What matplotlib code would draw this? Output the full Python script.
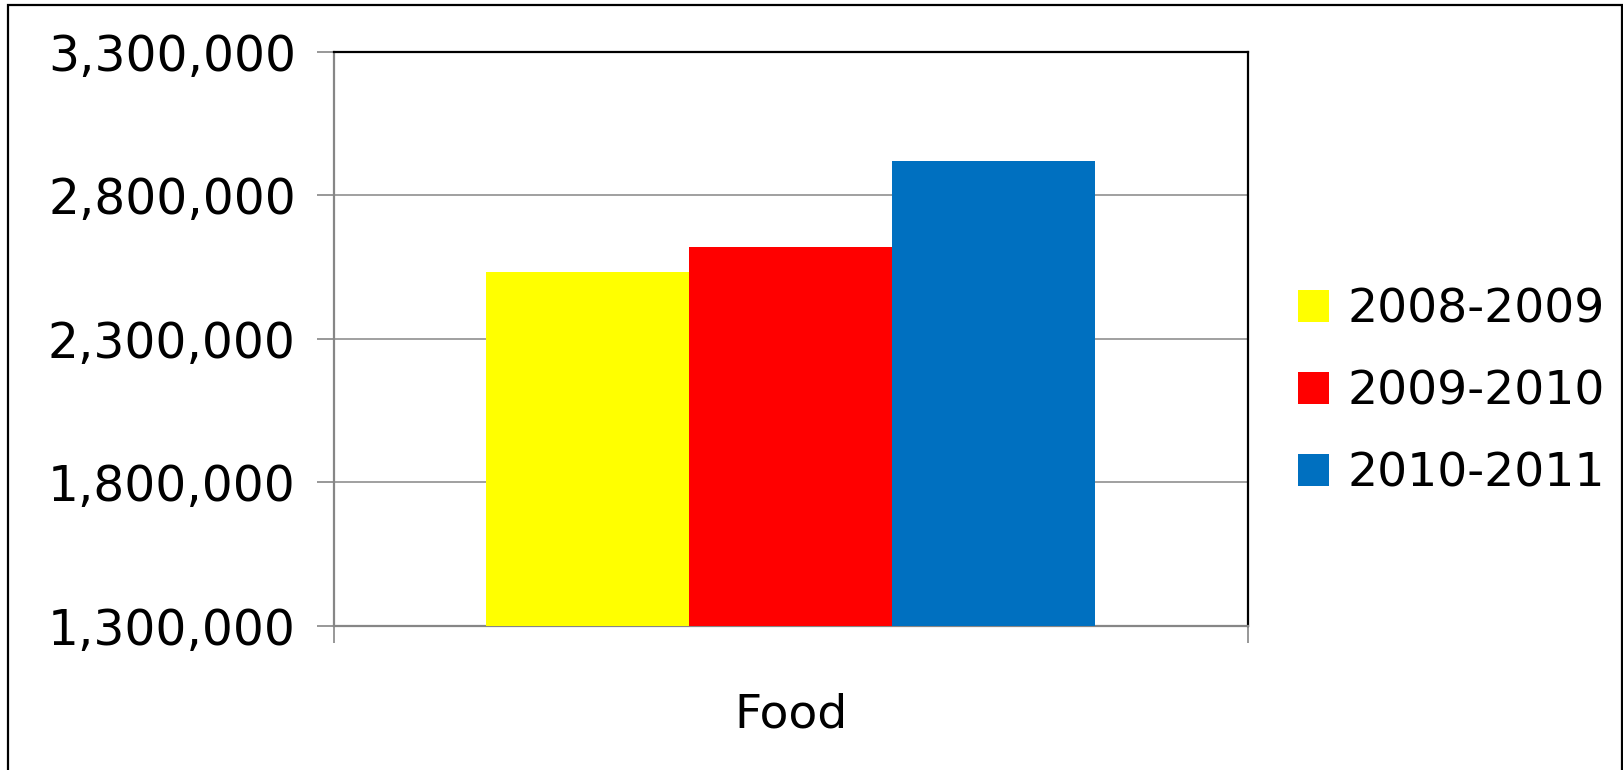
from matplotlib import pyplot as plt
from matplotlib.patches import Rectangle
from matplotlib.ticker import StrMethodFormatter
import numpy as np

category = "Food"
seasons = ["2008-2009", "2009-2010", "2010-2011"]
values = [2532000, 2621000, 2919000]
colors = ['#FFFF00', '#FF0000', '#0070C0']
yticks = [1300000, 1800000, 2300000, 2800000, 3300000]

gray = '#868686'
fs = 34

fig = plt.figure(figsize=(16.24, 7.7), dpi=100)
ax = fig.add_axes([334 / 1624, 144.3 / 770, 914 / 1624, 574 / 770])

w = 203 / 914
offsets = (np.arange(len(seasons)) - 1) * w
for off, v, c, lab in zip(offsets, values, colors, seasons):
    ax.bar(off, v - yticks[0], bottom=yticks[0], width=w, color=c, label=lab, zorder=3)

ax.set_xlim(-0.5, 0.5)
ax.set_ylim(yticks[0], yticks[-1])
ax.set_yticks(yticks)
ax.yaxis.set_major_formatter(StrMethodFormatter('{x:,.0f}'))
ax.grid(axis='y', color=gray, linewidth=1.1, zorder=0)

ax.set_xticks([-0.5, 0.5])
ax.set_xticklabels([])
ax.set_xticks([0], [category], minor=True)
ax.tick_params(axis='x', which='major', direction='out', length=12.5, width=1.2, color=gray)
ax.tick_params(axis='x', which='minor', length=0, pad=48, labelsize=fs)
ax.tick_params(axis='y', direction='out', length=12.5, width=1.2, color=gray, pad=15, labelsize=35)

for s in ['left', 'bottom']:
    ax.spines[s].set_color(gray)
    ax.spines[s].set_linewidth(1.6)
for s in ['top', 'right']:
    ax.spines[s].set_color('black')
    ax.spines[s].set_linewidth(1.6)

ax.legend(loc='center left', bbox_to_anchor=(1298 / 1624, 378 / 770), bbox_transform=fig.transFigure,
          frameon=False, fontsize=fs, handlelength=0.66, handleheight=0.66, handletextpad=0.38,
          labelspacing=0.78, borderpad=0, borderaxespad=0)

fig.add_artist(Rectangle((8 / 1624, -0.1), 1614.5 / 1624, 765 / 770 + 0.1, transform=fig.transFigure,
                         fill=False, edgecolor='black', linewidth=1.6))

fig.savefig("out.png", dpi=100)
